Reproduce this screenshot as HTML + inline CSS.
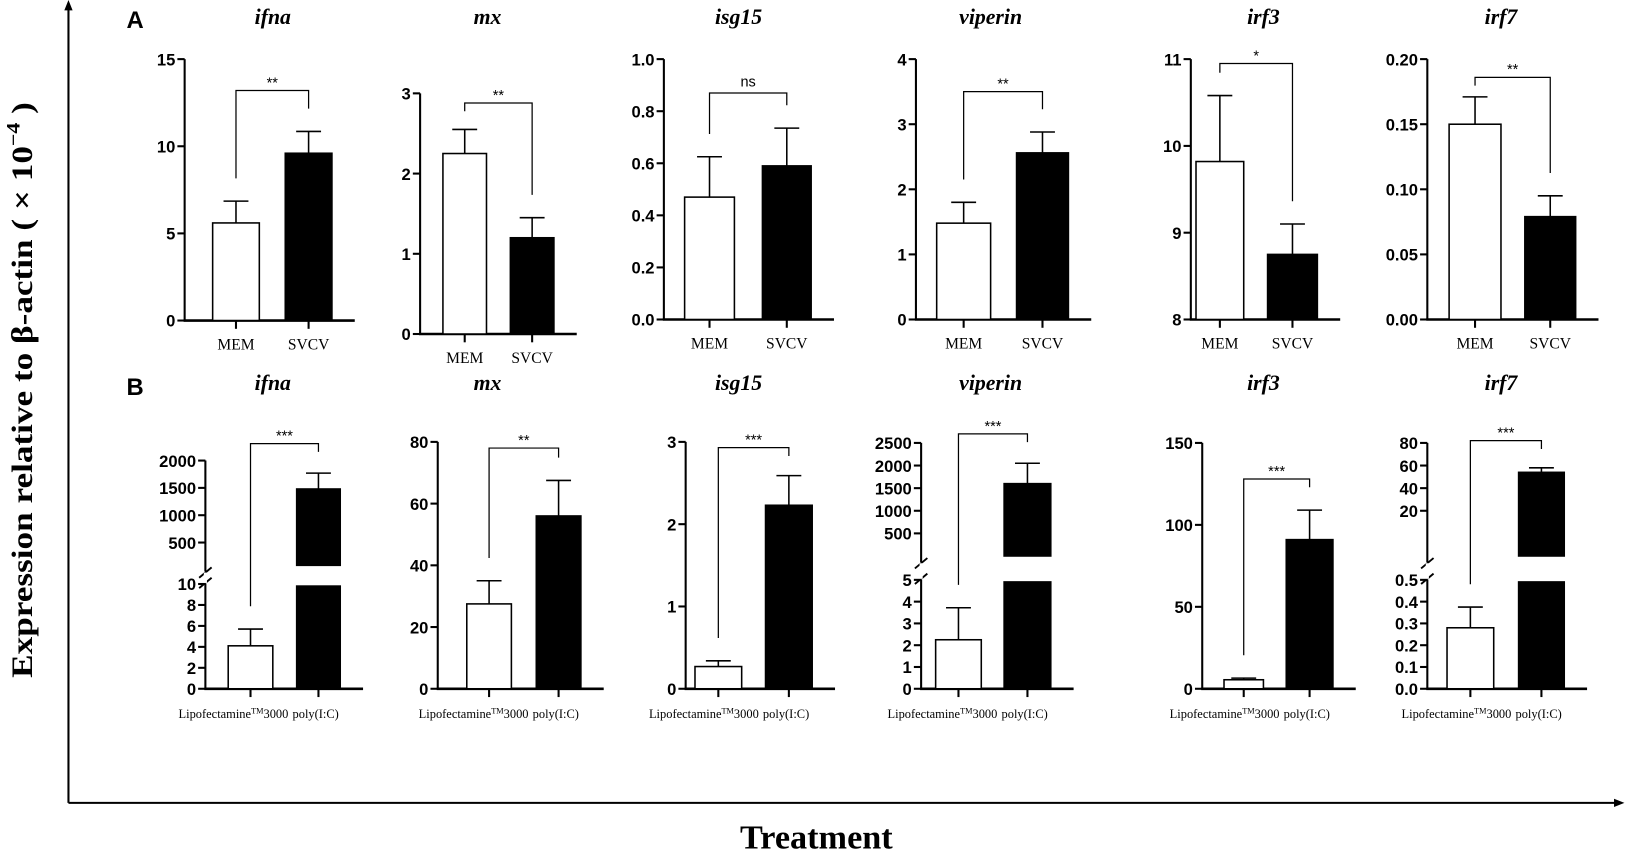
<!DOCTYPE html>
<html><head><meta charset="utf-8">
<style>
html,body{margin:0;padding:0;background:#fff;}
svg{display:block;}
.tk{font-family:"Liberation Sans",Arial,sans-serif;font-weight:bold;font-size:16px;}
.ttl{font-family:"Liberation Serif",serif;font-weight:bold;font-style:italic;font-size:21px;}
.cat{font-family:"Liberation Serif",serif;font-size:15px;}
.catb{font-family:"Liberation Serif",serif;font-size:12px;}
.sig{font-family:"Liberation Sans",sans-serif;font-size:14px;}
</style></head>
<body>
<svg id="fig" width="1626" height="851" viewBox="0 0 1626 851" xmlns="http://www.w3.org/2000/svg">
<g transform="scale(1.0373)">
<g>
<line x1="66" y1="774" x2="66" y2="8" stroke="#000" stroke-width="2"/>
<polygon points="66,0 62,10 70,10" fill="#000"/>
<line x1="66" y1="774" x2="1558" y2="774" stroke="#000" stroke-width="2"/>
<polygon points="1566,774 1556,770 1556,778" fill="#000"/>
</g>
<text transform="translate(31,376) rotate(-90)" text-anchor="middle" font-family="Liberation Serif,serif" font-weight="bold" font-size="29" textLength="555" lengthAdjust="spacingAndGlyphs">Expression relative to β-actin ( × 10<tspan font-size="18" dy="-12">−4</tspan><tspan dy="12"> )</tspan></text>
<text x="787" y="818" text-anchor="middle" font-family="Liberation Serif,serif" font-weight="bold" font-size="33">Treatment</text>
<text x="122" y="27" font-family="Liberation Sans,sans-serif" font-weight="bold" font-size="23">A</text>
<text x="122" y="381" font-family="Liberation Sans,sans-serif" font-weight="bold" font-size="23">B</text>
<g id="plots"></g>
</g>
</svg>
<script>
// ---- data ----
const genes = ['ifna','mx','isg15','viperin','irf3','irf7'];
const catsA = ['MEM','SVCV'];
const catsB = ['Lipofectamine™3000','poly(I:C)'];
const ctrlA = [5.6, 2.25, 0.47, 1.48, 9.82, 0.150];
const ctrlErrA = [6.85, 2.55, 0.625, 1.8, 10.58, 0.171];
const treatA = [9.6, 1.2, 0.59, 2.56, 8.75, 0.079];
const treatErrA = [10.85, 1.45, 0.735, 2.88, 9.1, 0.095];
const sigA = ['**','**','ns','**','*','**'];
const bracketA = [13.2, 2.88, 0.87, 3.5, 10.95, 0.186];
const ticksA = [[0,5,10,15],[0,1,2,3],[0,0.2,0.4,0.6,0.8,1.0],[0,1,2,3,4],[8,9,10,11],[0,0.05,0.10,0.15,0.20]];
const tickLabelsA = [['0','5','10','15'],['0','1','2','3'],['0.0','0.2','0.4','0.6','0.8','1.0'],['0','1','2','3','4'],['8','9','10','11'],['0.00','0.05','0.10','0.15','0.20']];
const ctrlB = [4.1, 27.5, 0.27, 2.25, 5.5, 0.28];
const ctrlErrB = [5.7, 35, 0.34, 3.72, 6.5, 0.375];
const treatB = [1480, 56, 2.23, 1600, 91, 54];
const treatErrB = [1770, 67.5, 2.59, 2050, 109, 58];
const sigB = ['***','**','***','***','***','***'];
const bracketB = [2310, 78, 2.93, 2700, 128, 82];
const ticksLowB = [[0,2,4,6,8,10],[0,20,40,60,80],[0,1,2,3],[0,1,2,3,4,5],[0,50,100,150],[0,0.1,0.2,0.3,0.4,0.5]];
const tickLabelsLowB = [['0','2','4','6','8','10'],['0','20','40','60','80'],['0','1','2','3'],['0','1','2','3','4','5'],['0','50','100','150'],['0.0','0.1','0.2','0.3','0.4','0.5']];
const ticksUpB = [[500,1000,1500,2000],[],[],[500,1000,1500,2000,2500],[],[20,40,60,80]];
const tickLabelsUpB = [['500','1000','1500','2000'],[],[],['500','1000','1500','2000','2500'],[],['20','40','60','80']];

// ---- layout (pixels) ----
const layA = [
 {ax:178, b1:[205,250], b2:[275,320], base:309, top:57, lo:[0,15], tx:263},
 {ax:405, b1:[427,469], b2:[492,534], base:322, top:90, lo:[0,3], tx:470},
 {ax:640, b1:[660,708], b2:[735,782], base:308, top:57, lo:[0,1], tx:712},
 {ax:883, b1:[903,955], b2:[980,1030], base:308, top:57, lo:[0,4], tx:955},
 {ax:1148, b1:[1153,1199], b2:[1222,1270], base:308, top:57, lo:[8,11], tx:1218},
 {ax:1376, b1:[1397,1447], b2:[1470,1519], base:308, top:57, lo:[0,0.2], tx:1447}
];
const layB = [
 {ax:198, b1:[220,263], b2:[286,328], base:664, top:563, lo:[0,10], up:{v:[83,2000],p:[545,444]}, tx:263},
 {ax:422, b1:[450,493], b2:[517,560], base:664, top:426, lo:[0,80], tx:470},
 {ax:661, b1:[670,715], b2:[738,783], base:664, top:426, lo:[0,3], tx:712},
 {ax:888, b1:[902,946], b2:[968,1013], base:664, top:559, lo:[0,5], up:{v:[0,2500],p:[536,427]}, tx:955},
 {ax:1159, b1:[1180,1218], b2:[1240,1285], base:664, top:427, lo:[0,150], tx:1218},
 {ax:1376, b1:[1395,1440], b2:[1464,1508], base:664, top:559, lo:[0,0.5], up:{v:[-20,80],p:[536,427]}, tx:1447}
];

const NS='http://www.w3.org/2000/svg';
const root=document.getElementById('plots');
function mk(tag,attrs,parent){const e=document.createElementNS(NS,tag);for(const k in attrs)e.setAttribute(k,attrs[k]);(parent||root).appendChild(e);return e;}
function ln(g,x1,y1,x2,y2,w){return mk('line',{x1:x1,y1:y1,x2:x2,y2:y2,stroke:'#000','stroke-width':w||1.5},g);}

function drawPanel(row,i,L,cats,c,ce,t,te,sig,br,ticksLo,labLo,ticksUp,labUp,titleY,catY,catCls){
  const g=mk('g',{});
  
  
  const yLo=v=>L.base-(v-L.lo[0])/(L.lo[1]-L.lo[0])*(L.base-L.top);
  const yUp=L.up?(v=>L.up.p[0]-(v-L.up.v[0])/(L.up.v[1]-L.up.v[0])*(L.up.p[0]-L.up.p[1])):null;
  const y=v=>(yUp && v>L.lo[1])?yUp(v):yLo(v);
  const title=mk('text',{x:L.tx,y:titleY,'text-anchor':'middle',class:'ttl'},g);
  title.textContent=genes[i];
  
  
  ln(g,L.ax,L.base,L.ax,L.top,2);
  ln(g,L.ax-1,L.base,L.b2[1]+22,L.base,2.5);
  ticksLo.forEach((v,k)=>{const yy=yLo(v);ln(g,L.ax-7,yy,L.ax,yy,2);
    const tl=mk('text',{x:L.ax-9,y:yy+6,'text-anchor':'end',class:'tk'},g);tl.textContent=labLo[k];
    
    });
  if(yUp){
    ln(g,L.ax,L.up.p[0]+6,L.ax,L.up.p[1],2);
    ticksUp.forEach((v,k)=>{const yy=yUp(v);ln(g,L.ax-7,yy,L.ax,yy,2);
      const tl=mk('text',{x:L.ax-9,y:yy+6,'text-anchor':'end',class:'tk'},g);tl.textContent=labUp[k];
      
      });
    ln(g,L.ax-6,L.up.p[0]+12,L.ax+6,L.up.p[0]+2,1.8);
    ln(g,L.ax-6,L.top+4,L.ax+6,L.top-6,1.8);
    mk('rect',{x:L.ax-1.5,y:L.up.p[0]+7,width:3,height:L.top-L.up.p[0]-8,fill:'#fff'},g);
  }
  const bars=[[L.b1,c[i],ce[i],'#fff'],[L.b2,t[i],te[i],'#000']];
  const cx2=(L.b2[0]+L.b2[1])/2;
  bars.forEach((b,k)=>{
    const [xs,v,e,fill]=b; const cx=(xs[0]+xs[1])/2;
    ln(g,cx,y(e),cx,y(v),1.5); ln(g,cx-12,y(e),cx+12,y(e),1.5);
    if(yUp && v>L.lo[1]){
      const r1=mk('rect',{x:xs[0],y:yUp(v),width:xs[1]-xs[0],height:L.up.p[0]-yUp(v),fill:fill,stroke:'#000','stroke-width':1.5},g);
      
      
      const r2=mk('rect',{x:xs[0],y:L.top+2,width:xs[1]-xs[0],height:L.base-L.top-2,fill:fill,stroke:'#000','stroke-width':1.5},g);
      
      
    } else {
      const r=mk('rect',{x:xs[0],y:y(v),width:xs[1]-xs[0],height:L.base-y(v),fill:fill,stroke:'#000','stroke-width':1.5},g);
      
      
    }
    ln(g,cx,L.base,cx,L.base+8,2);
    let cl;
    if(cats[k].indexOf('™')>=0){
      cl=mk('text',{x:cx2-29,y:catY,'text-anchor':'end',class:catCls},g);
      cl.innerHTML='Lipofectamine<tspan font-size="8" dy="-4">TM</tspan><tspan dy="4">3000</tspan>';
    } else if(catCls==='catb'){
      cl=mk('text',{x:cx2-25,y:catY,'text-anchor':'start',class:catCls},g);
      cl.textContent=cats[k];
    } else {
      cl=mk('text',{x:cx,y:catY,'text-anchor':'middle',class:catCls},g);
      cl.textContent=cats[k];
    }
    
    
  });
  const x1=(L.b1[0]+L.b1[1])/2, x2=cx2, yb=y(br[i]);
  const d1=Math.max(yb+8,y(ce[i])-22), d2=Math.max(yb+8,y(te[i])-22);
  const p=mk('polyline',{points:x1+','+d1+' '+x1+','+yb+' '+x2+','+yb+' '+x2+','+d2,fill:'none',stroke:'#000','stroke-width':1.2},g);
  
  
  const st=mk('text',{x:(x1+x2)/2,y:yb-(sig[i]==='ns'?6:3),'text-anchor':'middle',class:'sig','font-size':sig[i]==='ns'?11:14},g);
  st.textContent=sig[i];
  
  
}
for(let i=0;i<6;i++){
  drawPanel('a',i,layA[i],catsA,ctrlA,ctrlErrA,treatA,treatErrA,sigA,bracketA,ticksA[i],tickLabelsA[i],[],[],23,layA[i].base+28,'cat');
  drawPanel('b',i,layB[i],catsB,ctrlB,ctrlErrB,treatB,treatErrB,sigB,bracketB,ticksLowB[i],tickLabelsLowB[i],ticksUpB[i],tickLabelsUpB[i],376,692,'catb');
}
</script>
</body></html>
